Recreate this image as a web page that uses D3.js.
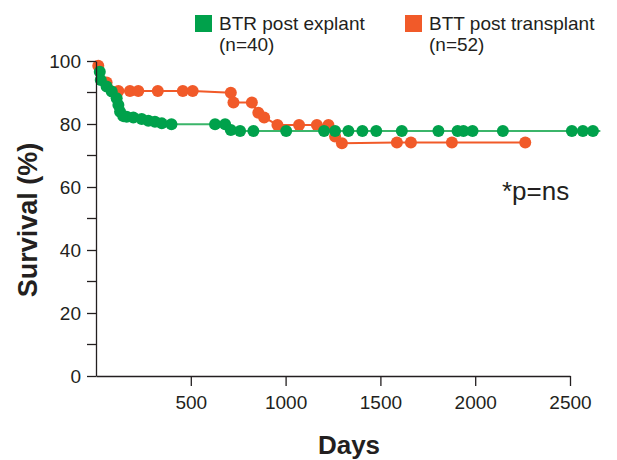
<!DOCTYPE html>
<html lang="en">
<head>
    <meta charset="UTF-8">
    <title>Survival curves</title>
    <script src="https://d3js.org/d3.v7.min.js"></script>
    <style>
        body, html {
            margin: 0;
            padding: 0;
            overflow: hidden;
            background: #fff;
        }
        svg {
            display: block;
        }
        text {
            font-family: "Liberation Sans", Arial, sans-serif;
            fill: #231f20;
        }
    </style>
</head>
<body>
<svg width="617" height="460"></svg>

<script>
    // BTR post explant (green) – days and survival %
    const btrDays = [20, 25, 56, 83, 109, 118, 127, 144, 162, 197, 241, 276, 311, 347, 398,
        628, 681, 711, 760, 830, 1003, 1203, 1261, 1331, 1405, 1478, 1613, 1806, 1907, 1938,
        1986, 2146, 2510, 2568, 2621];
    const btrSurv = [96.6, 94, 91.9, 90.3, 88.2, 86, 83.9, 82.5, 82.3, 82.1, 81.6, 81, 80.7, 80.2, 79.9,
        79.9, 79.9, 78.1, 77.8, 77.8, 77.8, 77.8, 77.8, 77.8, 77.8, 77.8, 77.8, 77.8, 77.8, 77.8,
        77.8, 77.8, 77.8, 77.8, 77.8];
    const btrLineEnd = 2660;

    // BTT post transplant (orange)
    const bttDays = [12, 56, 118, 179, 223, 326, 458, 510, 711, 725, 822, 856, 887, 957, 1071,
        1165, 1226, 1261, 1297, 1587, 1661, 1877, 2264];
    const bttSurv = [98.5, 93.2, 90.5, 90.5, 90.5, 90.5, 90.5, 90.5, 89.9, 86.8, 86.8, 83.6, 82.1, 79.7, 79.7,
        79.7, 79.7, 76, 73.9, 74.1, 74.1, 74.1, 74.1];

    const xTicks = [500, 1000, 1500, 2000, 2500];
    const yTicks = [0, 20, 40, 60, 80, 100];
    const yMinor = [10, 30, 50, 70, 90];

    const legendItems = [
        { name: 'BTR post explant', n: '(n=40)', color: '#00a14b' },
        { name: 'BTT post transplant', n: '(n=52)', color: '#f15a29' }
    ];

    const svg = d3.select('svg');

    const x = d3.scaleLinear().domain([0, 2500]).range([96, 570]);
    const y = d3.scaleLinear().domain([0, 100]).range([376, 61]);

    const green = '#00a14b', greenLine = '#3bb56a', orange = '#f15a29';

    const line = d3.line().x(d => x(d[0])).y(d => y(d[1]));

    const bttPts = bttDays.map((d, i) => [d, bttSurv[i]]);
    const btrPts = btrDays.map((d, i) => [d, btrSurv[i]]);

    // orange series
    svg.append('path')
        .attr('d', line(bttPts))
        .attr('fill', 'none')
        .attr('stroke', orange)
        .attr('stroke-width', 2);
    svg.append('g').selectAll('circle')
        .data(bttPts)
        .enter().append('circle')
        .attr('cx', d => x(d[0]))
        .attr('cy', d => y(d[1]))
        .attr('r', 6)
        .attr('fill', orange);

    // green series
    svg.append('path')
        .attr('d', line(btrPts.concat([[btrLineEnd, btrSurv[btrSurv.length - 1]]])))
        .attr('fill', 'none')
        .attr('stroke', greenLine)
        .attr('stroke-width', 2);
    svg.append('g').selectAll('circle')
        .data(btrPts)
        .enter().append('circle')
        .attr('cx', d => x(d[0]))
        .attr('cy', d => y(d[1]))
        .attr('r', 6)
        .attr('fill', green);

    // axes
    const xAxis = d3.axisBottom(x).tickValues(xTicks).tickFormat(d3.format('d'))
        .tickSize(10).tickPadding(10).tickSizeOuter(0);
    const gx = svg.append('g').attr('transform', `translate(0,${y(0)})`).call(xAxis);
    gx.select('.domain').attr('stroke', '#231f20').attr('stroke-width', 1.3);
    gx.selectAll('.tick line').attr('stroke', '#231f20').attr('stroke-width', 1.3);
    gx.selectAll('.tick text').style('font-size', '19px').attr('fill', '#231f20')
        .attr('font-family', '"Liberation Sans", Arial, sans-serif');

    const yAxis = d3.axisLeft(y).tickValues(yTicks).tickSize(9).tickPadding(6).tickSizeOuter(0);
    const gy = svg.append('g').attr('transform', `translate(${x(0)},0)`).call(yAxis);
    gy.select('.domain').attr('stroke', '#231f20').attr('stroke-width', 1.3);
    gy.selectAll('.tick line').attr('stroke', '#231f20').attr('stroke-width', 1.3);
    gy.selectAll('.tick text').style('font-size', '19px').attr('fill', '#231f20')
        .attr('font-family', '"Liberation Sans", Arial, sans-serif');

    gy.selectAll('.minor')
        .data(yMinor)
        .enter().append('line')
        .attr('class', 'minor')
        .attr('x1', -9).attr('x2', 0)
        .attr('y1', d => y(d)).attr('y2', d => y(d))
        .attr('stroke', '#231f20')
        .attr('stroke-width', 1.3);

    // axis titles
    svg.append('text')
        .attr('x', 349).attr('y', 454)
        .attr('text-anchor', 'middle')
        .style('font-size', '26px')
        .style('font-weight', 'bold')
        .text('Days');

    svg.append('text')
        .attr('transform', 'translate(37,220) rotate(-90)')
        .attr('text-anchor', 'middle')
        .style('font-size', '27px')
        .style('font-weight', 'bold')
        .text('Survival (%)');

    svg.append('text')
        .attr('x', 502).attr('y', 200)
        .style('font-size', '26px')
        .text('*p=ns');

    // legend
    const lg = svg.append('g').selectAll('g')
        .data(legendItems)
        .enter().append('g')
        .attr('transform', (d, i) => `translate(${[195, 405][i]},15)`);
    lg.append('rect')
        .attr('width', 17).attr('height', 17)
        .attr('fill', d => d.color);
    lg.append('text')
        .attr('x', 24).attr('y', 15)
        .style('font-size', '19px')
        .text(d => d.name);
    lg.append('text')
        .attr('x', 24).attr('y', 36)
        .style('font-size', '19px')
        .text(d => d.n);
</script>
</body>
</html>
